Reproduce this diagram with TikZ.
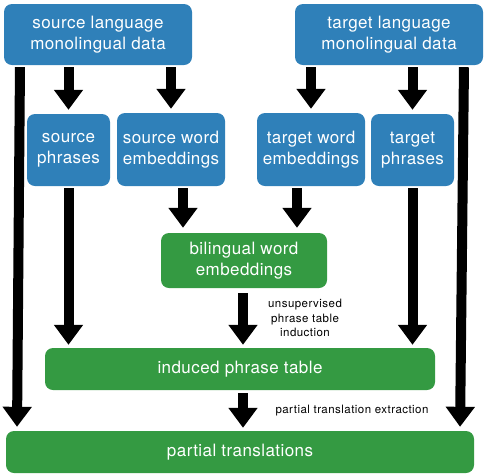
\documentclass[tikz,border=0pt]{standalone}
\usepackage{fontspec}
\setmainfont{TeX Gyre Heros}
\usetikzlibrary{arrows.meta,calc}
\definecolor{boxblue}{RGB}{47,128,185}
\definecolor{boxgreen}{RGB}{52,154,66}
\begin{document}
\begin{tikzpicture}[x=1pt,y=-1pt,
  box/.style={rounded corners=8pt, text=white, align=center, inner sep=0pt,
    font=\fontsize{17}{21}\selectfont\addfontfeatures{LetterSpace=2.5}},
  bluebox/.style={box, fill=boxblue},
  greenbox/.style={box, fill=boxgreen},
  arr/.style={line width=10pt, -{Triangle[width=28pt,length=20pt]}},
  lbl/.style={font=\fontsize{11.5}{14.5}\selectfont\addfontfeatures{LetterSpace=4}, align=center, inner sep=0pt}]
\useasboundingbox (0,0) rectangle (486,475);
\node[bluebox, minimum width=188pt, minimum height=61pt] (src) at (98,34.5) {source language\\monolingual data};
\node[bluebox, minimum width=188pt, minimum height=61pt] (tgt) at (389,34.5) {target language\\monolingual data};
\node[bluebox, minimum width=83pt, minimum height=72pt] (sp) at (68.5,150) {source\\phrases};
\node[bluebox, minimum width=108pt, minimum height=73pt] (swe) at (171,149.5) {source word\\embeddings};
\node[bluebox, minimum width=108pt, minimum height=73pt] (twe) at (311,149.5) {target word\\embeddings};
\node[bluebox, minimum width=83pt, minimum height=72pt] (tp) at (412.5,150) {target\\phrases};
\node[greenbox, minimum width=166pt, minimum height=55pt] (bwe) at (244,260.5) {bilingual word\\embeddings};
\node[greenbox, minimum width=390pt, minimum height=42pt] (ipt) at (240,369) {induced phrase table};
\node[greenbox, minimum width=468pt, minimum height=42pt] (pt) at (240,452) {partial translations};
\node[lbl] (l1) at (305,318) {unsupervised\\phrase table\\induction};
\node[lbl] (l2) at (352,411) {partial translation extraction};
\draw[arr, shorten <=2pt, shorten >=4pt] (src.south -| sp.north) -- (sp.north);
\draw[arr, shorten <=2pt, shorten >=4pt] (src.south -| swe.north) -- (swe.north);
\draw[arr, shorten <=2pt, shorten >=4pt] (tgt.south -| twe.north) -- (twe.north);
\draw[arr, shorten <=2pt, shorten >=4pt] (tgt.south -| tp.north) -- (tp.north);
\draw[arr, shorten <=2pt, shorten >=4pt] ([xshift=-78pt]src.south) -- ([xshift=-223pt]pt.north);
\draw[arr, shorten <=2pt, shorten >=4pt] ([xshift=75pt]tgt.south) -- ([xshift=220pt]pt.north);
\draw[arr, shorten <=2pt, shorten >=3pt] (sp.south) -- (sp.south |- ipt.north);
\draw[arr, shorten <=2pt, shorten >=5pt] ([xshift=12pt]swe.south) -- ([xshift=12pt]swe.south |- bwe.north);
\draw[arr, shorten <=2pt, shorten >=5pt] ([xshift=-14pt]twe.south) -- ([xshift=-14pt]twe.south |- bwe.north);
\draw[arr, shorten <=2pt, shorten >=3pt] (tp.south) -- (tp.south |- ipt.north);
\draw[arr, shorten <=5pt, shorten >=3pt] ([xshift=-1pt]bwe.south) -- ([xshift=-1pt]bwe.south |- ipt.north);
\draw[arr, shorten <=3pt, shorten >=3pt] ([xshift=3pt]ipt.south) -- ([xshift=3pt]ipt.south |- pt.north);
\end{tikzpicture}
\end{document}
